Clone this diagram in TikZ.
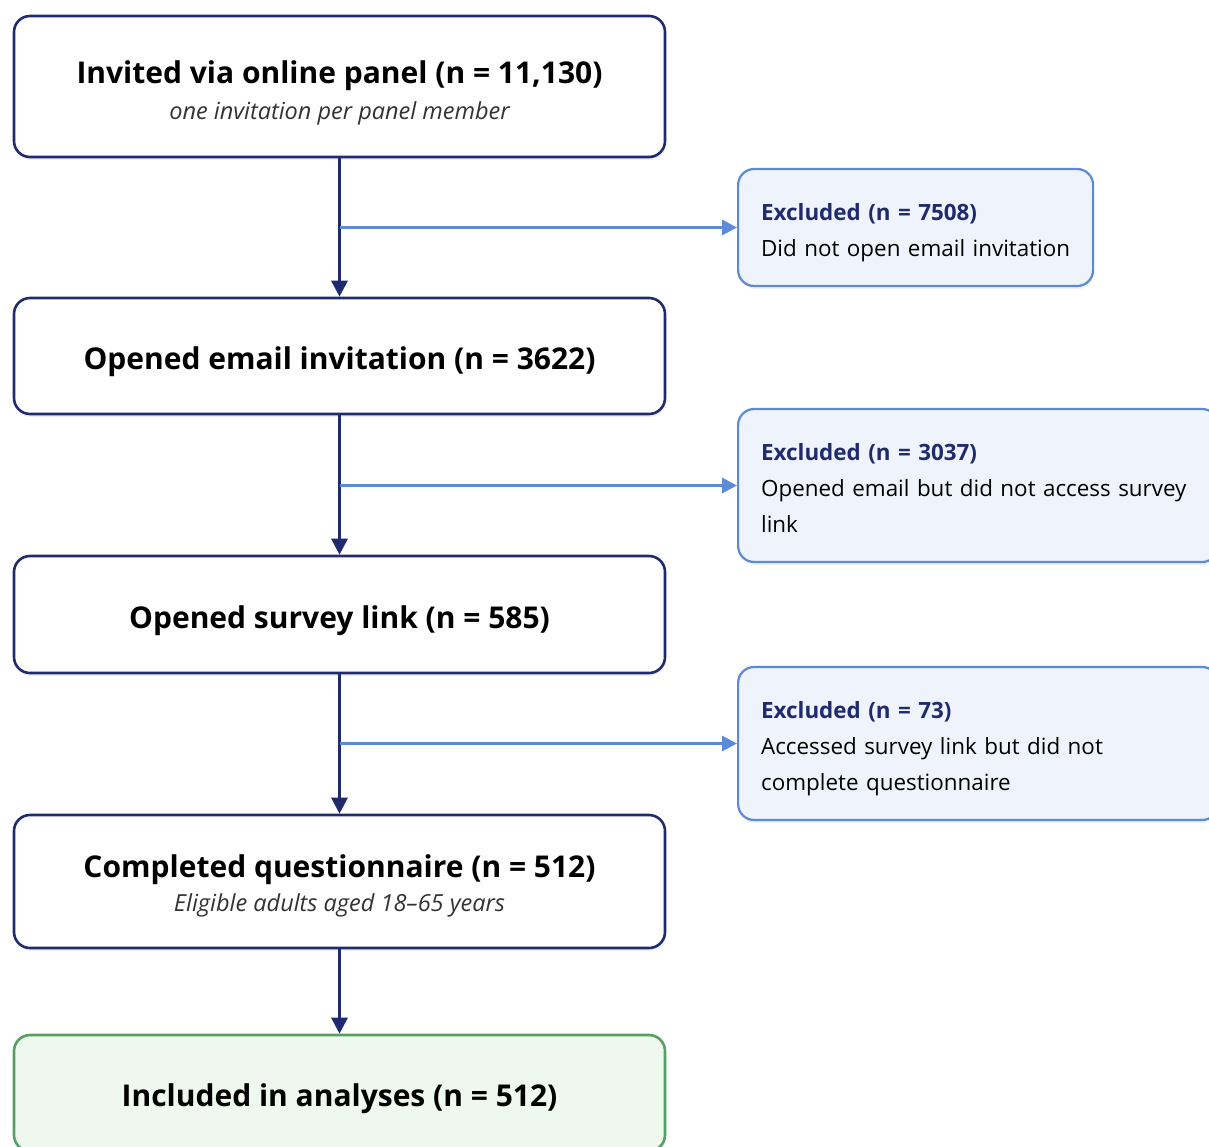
\documentclass[tikz,border=0pt]{standalone}
\usepackage{fontspec}
\setmainfont{Open Sans}
\usetikzlibrary{arrows.meta,shadows}

\definecolor{navy}{HTML}{1F2B6E}
\definecolor{exblue}{HTML}{5A8AD8}
\definecolor{exfill}{HTML}{EFF4FC}
\definecolor{okgreen}{HTML}{55A063}
\definecolor{okfill}{HTML}{EEF8EE}

\newcommand{\subline}[1]{{\fontsize{23.5}{39}\selectfont\mdseries\itshape\color{black!80}#1}}
\newcommand{\lift}[1]{\rule{0pt}{#1pt}}

\begin{document}
\begin{tikzpicture}[x=1pt, y=-1pt,
    stage/.style={draw=navy, line width=2.6pt, rounded corners=16pt, fill=white,
      minimum width=651pt, align=center, inner sep=0pt,
      font=\fontsize{30}{39}\selectfont\bfseries,
      drop shadow={shadow xshift=1pt, shadow yshift=-3pt, opacity=0.12}},
    final/.style={stage, draw=okgreen, fill=okfill},
    exbox/.style={draw=exblue, line width=2.2pt, rounded corners=16pt, fill=exfill,
      align=left, anchor=west, inner xsep=23pt, inner ysep=0pt,
      font=\fontsize{22.4}{36}\selectfont,
      drop shadow={shadow xshift=1pt, shadow yshift=-3pt, opacity=0.10}},
    flow/.style={draw=navy, line width=3pt, -{Triangle[width=16pt,length=16pt]}},
    side/.style={draw=exblue, line width=3pt, -{Triangle[width=15pt,length=15pt]}}]

    % Canvas
    \useasboundingbox (0,0) rectangle (1209,1146);

    % Main stages
    \node[stage, minimum height=141pt] (inv) at (339.5,86.5)
      {\lift{36}Invited via online panel (n = 11,130)\\[-3pt] \subline{one invitation per panel member}};
    \node[stage, minimum height=116pt] (email) at (339.5,356)
      {\lift{35}Opened email invitation (n = 3622)};
    \node[stage, minimum height=117pt] (link) at (339.5,614.5)
      {\lift{35}Opened survey link (n = 585)};
    \node[stage, minimum height=133pt] (done) at (339.5,881.5)
      {\lift{32}Completed questionnaire (n = 512)\\[-5pt] \subline{Eligible adults aged 18--65 years}};
    \node[final, minimum height=116pt] (incl) at (339.5,1093)
      {\lift{35}Included in analyses (n = 512)};

    % Exclusions
    \node[exbox, text width=309pt, minimum height=117pt] (ex1) at (737,227.5)
      {\lift{27}\textcolor{navy}{\bfseries Excluded (n = 7508)}\\\mbox{Did not open email invitation}};
    \node[exbox, text width=434pt, minimum height=153pt] (ex2) at (737,485.5)
      {\lift{21}\textcolor{navy}{\bfseries Excluded (n = 3037)}\\Opened email but did not access survey\\link};
    \node[exbox, text width=434pt, minimum height=153pt] (ex3) at (737,743.5)
      {\lift{27}\textcolor{navy}{\bfseries Excluded (n = 73)}\\Accessed survey link but did not\\complete questionnaire};

    % Flow arrows
    \draw[flow] (inv) -- (email);
    \draw[flow] (email) -- (link);
    \draw[flow] (link) -- (done);
    \draw[flow] (done) -- (incl);

    % Side arrows
    \foreach \a/\b in {inv/ex1, email/ex2, link/ex3} {
      \coordinate (j-\b) at (\a.south |- \b.west);
      \draw[side] (j-\b) -- (\b.west);
    }
\end{tikzpicture}
\end{document}
